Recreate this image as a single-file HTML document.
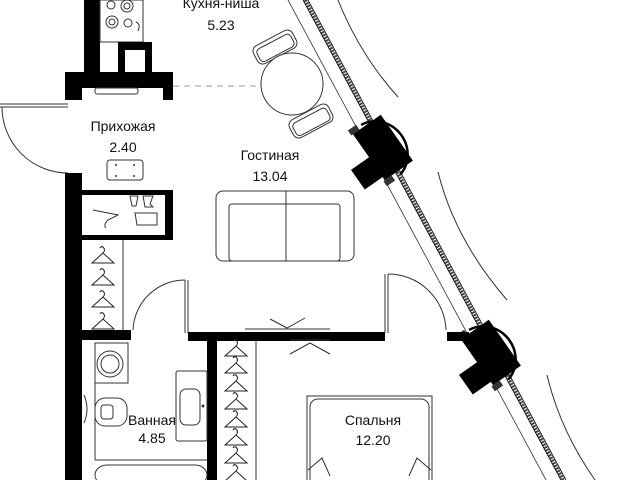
<!DOCTYPE html>
<html><head><meta charset="utf-8"><style>
html,body{margin:0;padding:0;background:#fff;}
svg{display:block}
text{font-family:"Liberation Sans","DejaVu Sans",sans-serif;font-size:14px;fill:#111;text-anchor:middle}
</style></head><body>
<svg width="640" height="480" viewBox="0 0 640 480" xmlns="http://www.w3.org/2000/svg">
<defs>
<g id="hg" fill="none" stroke="#222" stroke-width="1">
<path d="M0,-5 q3,-3 0,-6 q-2,-1 -3,1 M0,-5 L-11,5 L11,5 Z"/>
</g>
<g id="col">
<path d="M-12,-30 H22 V26 H-12 Z M-34,-2 H-12 V22 H-34 Z" fill="#000"/>
<rect x="-14" y="-36" width="10" height="6" fill="#333"/>
<rect x="-14" y="26" width="10" height="6" fill="#333"/>
<path d="M0,-33 A30,32 0 0 1 4,30" fill="none" stroke="#000" stroke-width="2.5"/>
</g>
<g id="chair" fill="#fff" stroke="#333" stroke-width="1">
<rect x="-22" y="-10" width="44" height="20" rx="6"/>
<rect x="-19" y="-6" width="38" height="14" rx="4"/>
</g>
</defs>

<g fill="none" stroke="#333" stroke-width="1">
<path d="M338,0 Q360,55 398,97"/>
<path d="M438,172 Q455,240 507,300"/>
<path d="M547,375 Q560,430 595,480"/>
</g>

<line x1="305" y1="0" x2="563" y2="480" stroke="#444" stroke-width="4" stroke-dasharray="2,1"/>
<line x1="303" y1="0" x2="561" y2="480" stroke="#000" stroke-width="0.8"/>
<line x1="308" y1="0" x2="566" y2="480" stroke="#000" stroke-width="0.8"/>
<line x1="288" y1="0" x2="546" y2="480" stroke="#333" stroke-width="0.8"/>

<use href="#col" transform="translate(380,152) rotate(-35)"/>
<use href="#col" transform="translate(488,357) rotate(-35)"/>

<rect x="84" y="0" width="16" height="72" fill="#000"/>
<rect x="100" y="0" width="43" height="42" fill="#fff" stroke="#333" stroke-width="1"/>
<g fill="none" stroke="#333" stroke-width="1">
<circle cx="111" cy="5" r="4"/><circle cx="127" cy="6" r="6"/><circle cx="127" cy="6" r="3"/>
<circle cx="112" cy="22" r="6"/><circle cx="112" cy="22" r="3"/><circle cx="128" cy="23" r="4"/>
<path d="M136,22 q5,2 2,9"/>
</g>
<path d="M118,42 H152 V72 H145 V50 H125 V72 H118 Z" fill="#000"/>
<path d="M65,72 H173 V100 H163 V88 H82 V100 H65 Z" fill="#000"/>
<rect x="95" y="88" width="43" height="6" rx="2" fill="#fff" stroke="#333"/>
<line x1="173" y1="86" x2="258" y2="86" stroke="#999" stroke-dasharray="6,5"/>

<use href="#chair" transform="translate(275,47) rotate(-28)"/>
<use href="#chair" transform="translate(311,121) rotate(-28)"/>
<circle cx="292" cy="84" r="31" fill="#fff" stroke="#333"/>

<g fill="none" stroke="#333" stroke-width="1">
<path d="M0,104 H68 M0,107 H68"/>
<path d="M2,107 A66,66 0 0 0 68,173"/>
</g>
<rect x="65" y="173" width="17" height="307" fill="#000"/>
<path d="M82,190 H173 V240 H82 V235 H165 V195 H82 Z" fill="#000"/>
<rect x="107" y="160" width="36" height="20" rx="3" fill="none" stroke="#333"/>
<g fill="#333"><circle cx="116" cy="165" r="1"/><circle cx="134" cy="165" r="1"/><circle cx="116" cy="176" r="1"/><circle cx="134" cy="176" r="1"/></g>
<g fill="none" stroke="#333">
<path d="M93,210 L118,215 L108,220 Q103,225 106,228"/>
<path d="M130,196 l8,0 -2,10 -4,0z M143,196 l10,0 -3,8 3,3 -8,0z M135,213 h22 v12 h-20 z"/>
</g>

<text x="221" y="8">Кухня-ниша</text>
<text x="221" y="30">5.23</text>
<text x="123" y="131">Прихожая</text>
<text x="123" y="152">2.40</text>
<text x="270" y="160">Гостиная</text>
<text x="270" y="181">13.04</text>

<g fill="#fff" stroke="#333" stroke-width="1">
<rect x="216" y="191" width="138" height="70" rx="7"/>
<rect x="229" y="204" width="111" height="57" rx="3"/>
<line x1="286" y1="191" x2="286" y2="261"/>
</g>

<line x1="123" y1="240" x2="123" y2="330" stroke="#333"/>
<use href="#hg" x="103" y="258"/><use href="#hg" x="103" y="280"/><use href="#hg" x="103" y="302"/><use href="#hg" x="103" y="324"/>
<rect x="82" y="330" width="49" height="10" fill="#000"/>
<g fill="none" stroke="#333">
<path d="M133,330 A52,52 0 0 1 185,280"/>
<path d="M185,280 V333 M188,280 V333"/>
</g>
<rect x="188" y="332" width="197" height="9" fill="#000"/>
<rect x="207" y="341" width="10" height="139" fill="#000"/>
<g fill="none" stroke="#333">
<path d="M245,329 H330 M270,319 L287,328 L305,318 M290,340 H330 M290,354 L310,343 L330,354"/>
</g>
<g fill="none" stroke="#333">
<path d="M385,274 V333 M388,274 V333"/>
<path d="M388,274 A58,58 0 0 1 446,330"/>
</g>
<rect x="447" y="332" width="22" height="9" fill="#000"/>

<g fill="none" stroke="#333">
<rect x="95" y="343" width="33" height="40" />
<circle cx="110" cy="364" r="13"/><circle cx="110" cy="364" r="9"/>
<rect x="95" y="398" width="32" height="28" rx="10"/>
<rect x="101" y="405" width="12" height="14" rx="3"/>
<path d="M84,395 q6,14 0,28"/>
<line x1="95" y1="343" x2="95" y2="460"/>
<line x1="95" y1="460" x2="207" y2="460"/>
<rect x="176" y="371" width="31" height="70" rx="2"/>
<rect x="180" y="389" width="20" height="36" rx="6"/>
<rect x="95" y="465" width="112" height="20" rx="12"/>
<line x1="256" y1="340" x2="256" y2="480"/>
</g>
<circle cx="203" cy="406" r="1.5" fill="#333"/>
<text x="152" y="425">Ванная</text>
<text x="152" y="443">4.85</text>

<use href="#hg" x="236" y="351"/><use href="#hg" x="236" y="368"/><use href="#hg" x="236" y="386"/><use href="#hg" x="236" y="404"/>
<use href="#hg" x="236" y="422"/><use href="#hg" x="236" y="440"/><use href="#hg" x="236" y="458"/><use href="#hg" x="236" y="476"/>

<g fill="none" stroke="#333">
<rect x="307" y="396" width="125" height="90"/>
<rect x="310" y="399" width="119" height="90" rx="8"/>
<path d="M308,470 l14,-12 8,18 M431,470 l-14,-12 -8,18"/>
</g>
<text x="373" y="425">Спальня</text>
<text x="373" y="445">12.20</text>
</svg>
</body></html>
